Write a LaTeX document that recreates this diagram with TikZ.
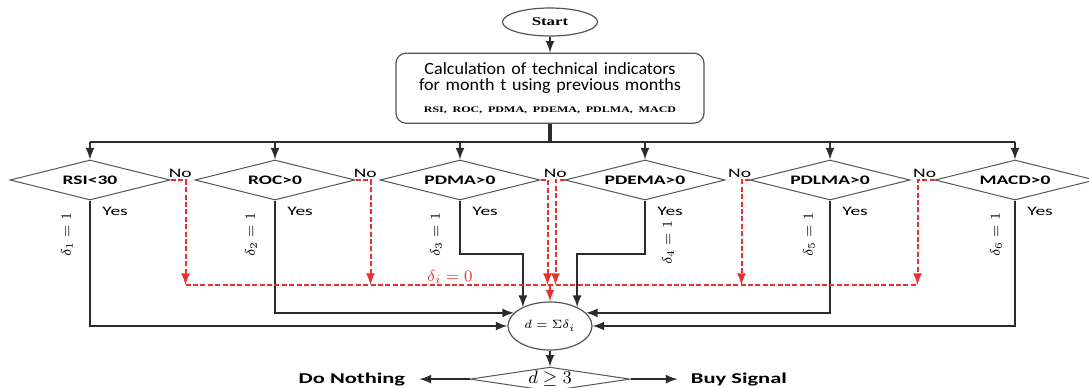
\documentclass[tikz,border=0pt]{standalone}
\usepackage{fontspec}
\usepackage{amsmath}
\usepackage{amssymb}
\usetikzlibrary{positioning,shapes,arrows}
\newfontfamily\calfont[FakeStretch=1.05]{Carlito}
\newfontfamily\callabel[FakeStretch=1.5]{Carlito}
\newfontfamily\timesbold[FakeStretch=1.4]{Liberation Serif}
\definecolor{flowline}{HTML}{2B2B2B}
\definecolor{shapeline}{HTML}{555555}
\definecolor{nored}{HTML}{E8312F}

\begin{document}
\begin{tikzpicture}[x=1pt, y=1pt, >=latex,
terminal/.style={ellipse, draw=shapeline, line width=0.6pt, minimum width=47.5pt, minimum height=14pt, inner sep=0pt, font=\timesbold\bfseries\fontsize{6}{7}\selectfont},
calcbox/.style={rectangle, rounded corners=5pt, draw=shapeline, line width=0.6pt, text width=150pt, align=center, minimum height=35pt, inner sep=2pt, font=\calfont\fontsize{8.6}{8.2}\selectfont},
test/.style={diamond, draw=shapeline, line width=0.5pt, aspect=4, inner sep=0pt, minimum width=80pt, minimum height=20pt, font=\callabel\bfseries\fontsize{6.5}{7}\selectfont},
sumnode/.style={ellipse, draw=shapeline, line width=0.6pt, minimum width=42pt, minimum height=24pt, inner sep=0pt, font=\fontsize{6.5}{7}\selectfont},
decision/.style={diamond, draw=shapeline, line width=0.5pt, aspect=6.5, inner sep=0pt, minimum width=80pt, minimum height=12pt, font=\fontsize{9}{10}\selectfont},
endlabel/.style={font=\callabel\bfseries\fontsize{7.5}{8}\selectfont},
flow/.style={draw=flowline, line width=1pt},
nopath/.style={draw=nored, line width=1pt, dash pattern=on 2.5pt off 1.2pt},
yeslabel/.style={font=\callabel\fontsize{6.5}{7}\selectfont, inner sep=0pt},
deltalabel/.style={font=\fontsize{7.5}{8}\selectfont, rotate=90, inner sep=0pt},
]
\useasboundingbox (0,0) rectangle (544.5,-193.5);

\node[terminal] (start) at (275,-11) {Start};
\node[calcbox] (calc) [below=8pt of start] {Calculation of technical indicators\\for month t using previous months\\[3pt]{\timesbold\bfseries\fontsize{4.3}{5}\selectfont RSI, ROC, PDMA, PDEMA, PDLMA, MACD}};
\coordinate[below=9pt of calc.south] (bus);

%Indicator tests
\node[test] (rsi) at (45,-90) {RSI<30};
\node[test, on grid, right=92.5pt of rsi] (roc) {ROC>0};
\node[test, on grid, right=92.5pt of roc] (pdma) {PDMA>0};
\node[test, on grid, right=92.5pt of pdma] (pdema) {PDEMA>0};
\node[test, on grid, right=92.5pt of pdema] (pdlma) {PDLMA>0};
\node[test, on grid, right=92.5pt of pdlma] (macd) {MACD>0};

%Sum and decision
\node[sumnode] (sum) at (275,-163) {$d=\Sigma\delta_i$};
\node[decision] (dec) [below=8pt of sum] {$d \geq 3$};
\node[endlabel, inner xsep=7pt] (nothing) [left=25pt of dec] {Do Nothing};
\node[endlabel, inner xsep=6.5pt] (buy) [right=23.5pt of dec] {Buy Signal};

%Top flow
\draw[flow,->] (start.south) -- (calc.north);
\draw[flow, line width=1.8pt] (calc.south) -- (bus);
\draw[flow] (bus -| rsi.north) -- (bus -| macd.north);
\foreach \t in {rsi,roc,pdma,pdema,pdlma,macd}
  \draw[flow,->] (bus -| \t.north) -- (\t.north);

%Yes branches
\draw[flow,->] (rsi.south) |- (sum.west);
\draw[flow,->] (roc.south) |- (sum.160);
\draw[flow,->] (pdma.south) -- ++(0,-26.5) -| (sum.145);
\draw[flow,->] (pdema.south) -- ++(0,-26.5) -| (sum.35);
\draw[flow,->] (pdlma.south) |- (sum.20);
\draw[flow,->] (macd.south) |- (sum.east);

\foreach \t in {rsi,roc,pdma,pdema,pdlma,macd}
  \node[yeslabel, anchor=base west, xshift=6pt, yshift=-7.5pt] at (\t.south) {Yes};
\foreach \t/\n/\dx/\dy in {rsi/1/-11.5/-17, roc/2/-12/-17, pdma/3/-12/-17, pdema/4/11.5/-21, pdlma/5/-10.5/-17, macd/6/-9.5/-17}
  \node[xshift=\dx pt, yshift=\dy pt, deltalabel] at (\t.south) {$\delta_\n = 1$};

%No branches
\coordinate (nobus) at (0,-142.5);
\foreach \t/\side/\dx in {rsi/east/7.5, roc/east/7.5, pdma/east/3.5, pdema/west/-4.5, pdlma/west/-4, macd/west/-8.5}
  \draw[nopath,->] (\t.\side) -- ++(\dx,0) coordinate (no-\t) -- (no-\t |- nobus);
\draw[nopath] (no-rsi |- nobus) -- (no-macd |- nobus);
\draw[nopath,->] (nobus -| sum.north) -- (sum.north);
\node[text=nored, font=\fontsize{8.5}{9}\selectfont] (zero) at (225,-138.5) {$\delta_i = 0$};

\node[yeslabel, anchor=base west, xshift=-1pt, yshift=1.5pt] at (rsi.east) {No};
\node[yeslabel, anchor=base west, xshift=-1pt, yshift=1.5pt] at (roc.east) {No};
\node[yeslabel, anchor=base west, xshift=1.5pt, yshift=1.5pt] at (pdma.east) {No};
\node[yeslabel, anchor=base east, xshift=1pt, yshift=1.5pt] at (pdlma.west) {No};
\node[yeslabel, anchor=base east, xshift=1pt, yshift=1.5pt] at (macd.west) {No};

%Outputs
\draw[flow,->] (sum.south) -- (dec.north);
\draw[flow,->] (dec.west) -- (nothing.east);
\draw[flow,->] (dec.east) -- (buy.west);
\end{tikzpicture}
\end{document}
